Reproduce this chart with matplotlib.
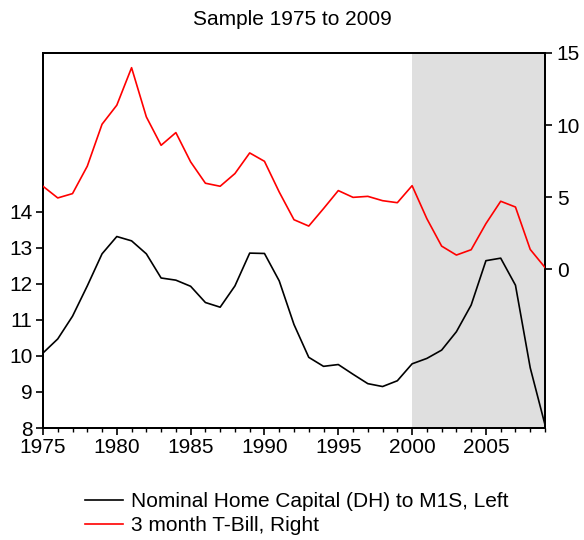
import matplotlib
matplotlib.use("Agg")
import matplotlib.pyplot as plt
from matplotlib.ticker import MultipleLocator

plt.rcParams['font.family'] = ['Liberation Sans', 'DejaVu Sans']

years = list(range(1975, 2010))
home_capital = [10.08, 10.47, 11.10, 11.94, 12.83, 13.31, 13.19, 12.83, 12.16, 12.10,
                11.93, 11.48, 11.35, 11.94, 12.85, 12.84, 12.08, 10.87, 9.96, 9.71,
                9.76, 9.49, 9.23, 9.15, 9.31, 9.78, 9.93, 10.16, 10.67, 11.41,
                12.64, 12.71, 11.96, 9.67, 8.09]
tbill = [5.76, 4.95, 5.25, 7.15, 10.06, 11.38, 13.98, 10.57, 8.60, 9.48,
         7.45, 5.97, 5.76, 6.64, 8.07, 7.49, 5.36, 3.44, 3.00, 4.21,
         5.46, 4.99, 5.06, 4.76, 4.62, 5.80, 3.51, 1.61, 0.99, 1.36,
         3.17, 4.72, 4.32, 1.38, 0.13]
left_ticks = [8, 9, 10, 11, 12, 13, 14]
right_ticks = [0, 5, 10, 15]
shade_start, shade_end = 2000, 2009
labels = ["Nominal Home Capital (DH) to M1S, Left", "3 month T-Bill, Right"]

fig = plt.figure(figsize=(5.84, 5.40), dpi=100)
ax = fig.add_axes([0.0736, 0.2074, 0.8596, 0.6945])
ax2 = ax.twinx()

ax.axvspan(shade_start, shade_end, color='#dfdfdf', lw=0, zorder=0)
l1, = ax.plot(years, home_capital, color='black', lw=1.2, zorder=3)
l2, = ax2.plot(years, tbill, color='#ff0000', lw=1.2, zorder=3)

ax.set_xlim(1975, 2009)
ax.set_ylim(8, 18.4)
ax2.set_ylim(-11, 15)
ax.set_yticks(left_ticks)
ax2.set_yticks(right_ticks)
ax.xaxis.set_major_locator(MultipleLocator(5))
ax.xaxis.set_minor_locator(MultipleLocator(1))

for a in (ax, ax2):
    for s in a.spines.values():
        s.set_linewidth(1.4)
ax.tick_params(axis='both', which='major', direction='out', length=5, width=1.2,
               labelsize=15, pad=2.5)
ax.tick_params(axis='x', which='minor', direction='out', length=3, width=1.0)
ax2.tick_params(axis='y', which='major', direction='out', length=5, width=1.2,
                labelsize=15, pad=3.5)

fig.text(0.5, 0.964, "Sample 1975 to 2009", ha='center', va='center', fontsize=15)

fig.legend([l1, l2], labels, loc='center', bbox_to_anchor=(0.508, 0.049),
           frameon=False, fontsize=15, handlelength=1.83, handletextpad=0.38,
           labelspacing=0.22, borderpad=0)

fig.savefig("out.png", dpi=100)
